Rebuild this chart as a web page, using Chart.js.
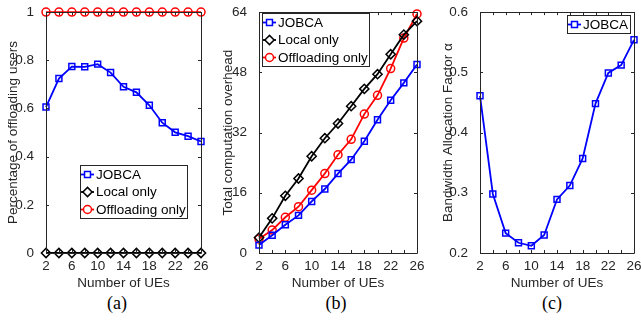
<!DOCTYPE html>
<html>
<head>
<meta charset="utf-8">
<script src="https://cdn.jsdelivr.net/npm/chart.js@4"></script>
<style>
  body { margin: 0; background: #fff; }
  #wrap { position: relative; width: 641px; height: 324px; overflow: hidden; }
  canvas { position: absolute; top: 0; }
  .cap { position: absolute; top: 292px; width: 40px; margin-left: -20px; text-align: center;
         font-family: "Liberation Serif", serif; font-size: 18px; line-height: 22px; color: #000; }
</style>
</head>
<body>
<div id="wrap">
  <canvas id="chart_a" width="215" height="292" style="left:0px"></canvas>
  <canvas id="chart_b" width="215" height="292" style="left:215px"></canvas>
  <canvas id="chart_c" width="211" height="292" style="left:430px"></canvas>
  <div class="cap" style="left:117px">(a)</div>
  <div class="cap" style="left:336px">(b)</div>
  <div class="cap" style="left:552px">(c)</div>
</div>
<script>
const ues = [2, 4, 6, 8, 10, 12, 14, 16, 18, 20, 22, 24, 26];
const xTickLabels = ['2', '', '6', '', '10', '', '14', '', '18', '', '22', '', '26'];

// (a) percentage of offloading users
const pctJobca = [0.606, 0.724, 0.774, 0.773, 0.784, 0.749, 0.690, 0.667, 0.613, 0.541, 0.501, 0.485, 0.463];
const pctLocal = [0, 0, 0, 0, 0, 0, 0, 0, 0, 0, 0, 0, 0];
const pctOffload = [1, 1, 1, 1, 1, 1, 1, 1, 1, 1, 1, 1, 1];
const yTicksA = [0, 0.2, 0.4, 0.6, 0.8, 1];

// (b) total computation overhead
const costJobca = [2.1, 4.7, 7.5, 10.0, 13.7, 17.0, 21.1, 24.8, 29.7, 35.4, 40.6, 45.2, 50.1];
const costLocal = [4.1, 9.2, 15.2, 19.8, 25.7, 30.5, 34.4, 39.0, 43.6, 47.5, 52.8, 58.0, 61.6];
const costOffload = [3.7, 6.1, 9.5, 12.3, 16.7, 21.1, 26.1, 30.2, 36.9, 41.9, 49.0, 57.1, 63.5];
const yTicksB = [0, 16, 32, 48, 64];

// (c) bandwidth allocation factor
const alphaJobca = [0.461, 0.298, 0.233, 0.217, 0.212, 0.230, 0.289, 0.312, 0.357, 0.448, 0.499, 0.512, 0.554];
const yTicksC = [0.2, 0.3, 0.4, 0.5, 0.6];

const axisColor = '#262626';
const fontFamily = '"Liberation Sans", Arial, sans-serif';

function pts(arr) {
  return arr.map((v, i) => ({x: ues[i], y: v}));
}

function series(label, arr, color, style, radius) {
  return {
    label: label,
    data: pts(arr),
    borderColor: color,
    backgroundColor: 'rgba(0,0,0,0)',
    borderWidth: 1.8,
    pointStyle: style,
    pointRadius: radius,
    pointBorderWidth: 1.5,
    pointBorderColor: color,
    pointBackgroundColor: 'rgba(0,0,0,0)',
    tension: 0,
    clip: false
  };
}

// matlab style frame + inward ticks
const framePlugin = {
  id: 'frame',
  afterDraw(chart) {
    const ctx = chart.ctx;
    const a = chart.chartArea;
    const xs = chart.scales.x, ys = chart.scales.y;
    const len = 3;
    ctx.save();
    ctx.strokeStyle = axisColor;
    ctx.lineWidth = 1;
    ctx.beginPath();
    ctx.rect(Math.round(a.left) + 0.5, Math.round(a.top) + 0.5,
             Math.round(a.right - a.left), Math.round(a.bottom - a.top));
    xs.ticks.forEach(t => {
      const px = Math.round(xs.getPixelForValue(t.value)) + 0.5;
      ctx.moveTo(px, a.bottom); ctx.lineTo(px, a.bottom - len);
      ctx.moveTo(px, a.top); ctx.lineTo(px, a.top + len);
    });
    ys.ticks.forEach(t => {
      const py = Math.round(ys.getPixelForValue(t.value)) + 0.5;
      ctx.moveTo(a.left, py); ctx.lineTo(a.left + len, py);
      ctx.moveTo(a.right, py); ctx.lineTo(a.right - len, py);
    });
    ctx.stroke();
    ctx.restore();
  }
};

// legend box drawn inside the plot
const boxLegendPlugin = {
  id: 'boxLegend',
  afterDraw(chart, args, opts) {
    const ctx = chart.ctx;
    const sets = chart.data.datasets;
    const rowH = 17.5;
    const h = sets.length * rowH + 0.5;
    ctx.save();
    ctx.fillStyle = '#fff';
    ctx.fillRect(opts.left, opts.top, opts.width, h);
    ctx.strokeStyle = axisColor;
    ctx.lineWidth = 1;
    ctx.strokeRect(opts.left + 0.5, opts.top + 0.5, opts.width, h);
    ctx.font = '13.5px ' + fontFamily;
    ctx.textBaseline = 'middle';
    ctx.textAlign = 'left';
    sets.forEach((ds, i) => {
      const y = opts.top + 9.5 + i * rowH;
      ctx.strokeStyle = ds.borderColor;
      ctx.lineWidth = ds.borderWidth;
      ctx.beginPath();
      ctx.moveTo(opts.left + 1, y);
      ctx.lineTo(opts.left + 14, y);
      ctx.stroke();
      ctx.lineWidth = ds.pointBorderWidth;
      ctx.fillStyle = '#fff';
      Chart.helpers.drawPoint(ctx, {pointStyle: ds.pointStyle, radius: ds.pointRadius, rotation: 0, borderWidth: ds.pointBorderWidth},
        opts.left + 7.5, y);
      ctx.fillStyle = '#000';
      ctx.fillText(ds.label, opts.left + 16, y + 0.5);
    });
    ctx.restore();
  }
};

function makeChart(id, datasets, yTicks, yTitle, yMin, yMax, yAxisW, yTitlePad, padRight, legend) {
  return new Chart(document.getElementById(id), {
    type: 'line',
    data: {datasets: datasets},
    options: {
      responsive: false,
      animation: false,
      events: [],
      layout: {padding: {top: 11, left: 0, right: padRight, bottom: 0}},
      scales: {
        x: {
          type: 'linear',
          min: 2,
          max: 26,
          afterBuildTicks: s => { s.ticks = ues.map(v => ({value: v})); },
          afterFit: s => { s.height = 39; },
          ticks: {
            autoSkip: false,
            maxRotation: 0,
            padding: -3,
            color: axisColor,
            font: {family: fontFamily, size: 13.5},
            callback: (v, i) => xTickLabels[i]
          },
          grid: {display: false},
          border: {display: false},
          title: {
            display: true,
            text: 'Number of UEs',
            color: axisColor,
            font: {family: fontFamily, size: 13.5},
            padding: {top: 0, bottom: 1}
          }
        },
        y: {
          min: yMin,
          max: yMax,
          afterBuildTicks: s => { s.ticks = yTicks.map(v => ({value: v})); },
          afterFit: s => { s.width = yAxisW; },
          ticks: {
            padding: 4,
            color: axisColor,
            font: {family: fontFamily, size: 13.5},
            callback: v => String(v)
          },
          grid: {display: false},
          border: {display: false},
          title: {
            display: true,
            text: yTitle,
            color: axisColor,
            font: {family: fontFamily, size: 13.5},
            padding: {top: yTitlePad, bottom: 0}
          }
        }
      },
      plugins: {
        legend: {display: false},
        tooltip: {enabled: false},
        boxLegend: legend
      }
    },
    plugins: [framePlugin, boxLegendPlugin]
  });
}

makeChart('chart_a', [
  series('JOBCA', pctJobca, '#0000ff', 'rect', 4.2),
  series('Local only', pctLocal, '#000000', 'rectRot', 4.6),
  series('Offloading only', pctOffload, '#ff0000', 'circle', 4)
], yTicksA, 'Percentage of offloading users', 0, 1, 46, 5, 14,
  {left: 80, top: 165, width: 107});

makeChart('chart_b', [
  series('JOBCA', costJobca, '#0000ff', 'rect', 4.2),
  series('Local only', costLocal, '#000000', 'rectRot', 4.6),
  series('Offloading only', costOffload, '#ff0000', 'circle', 4)
], yTicksB, 'Total computation overhead', 0, 64, 44, 5, 13,
  {left: 47, top: 13, width: 107});

makeChart('chart_c', [
  series('JOBCA', alphaJobca, '#0000ff', 'rect', 4.2)
], yTicksC, 'Bandwidth Allocation Factor α', 0.2, 0.6, 50, 10, 7,
  {left: 137, top: 15, width: 63});
</script>
</body>
</html>
